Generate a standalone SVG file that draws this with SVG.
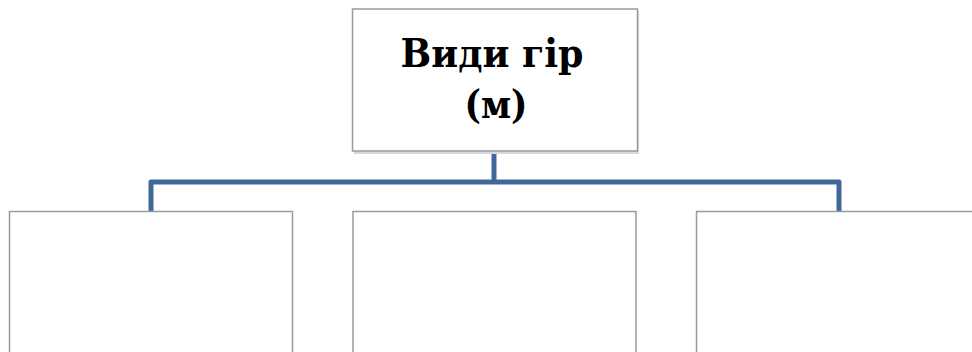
<svg xmlns="http://www.w3.org/2000/svg" width="972" height="352" viewBox="0 0 972 352">
<style>
.box{fill:#ffffff;stroke:#9a9a9a;stroke-width:1.5}
.shadow{fill:#d8d8d8}
.conn{fill:none;stroke:#41689b;stroke-width:5;stroke-linejoin:round}
.title{font-family:"DejaVu Serif","Liberation Serif",serif;font-weight:bold;font-size:39px;fill:#000;text-anchor:middle}
</style>
<rect width="972" height="352" fill="#ffffff"/>
<g id="connectors">
<path class="conn" d="M494,152 V182 M151,211 V182 H839 V211"/>
</g>
<g id="root">
<rect class="shadow" x="354" y="11" width="285" height="143"/>
<rect class="box" x="352.5" y="9" width="285" height="142"/>
<text class="title" x="492" y="67" textLength="183" lengthAdjust="spacingAndGlyphs">Види гір</text>
<text class="title" x="496" y="118" textLength="63" lengthAdjust="spacingAndGlyphs">(м)</text>
</g>
<g id="child1">
<rect class="box" x="9.5" y="211.5" width="283" height="150"/>
</g>
<g id="child2">
<rect class="box" x="353" y="211.5" width="283" height="150"/>
</g>
<g id="child3">
<rect class="box" x="696.5" y="211.5" width="285" height="150"/>
</g>
</svg>
